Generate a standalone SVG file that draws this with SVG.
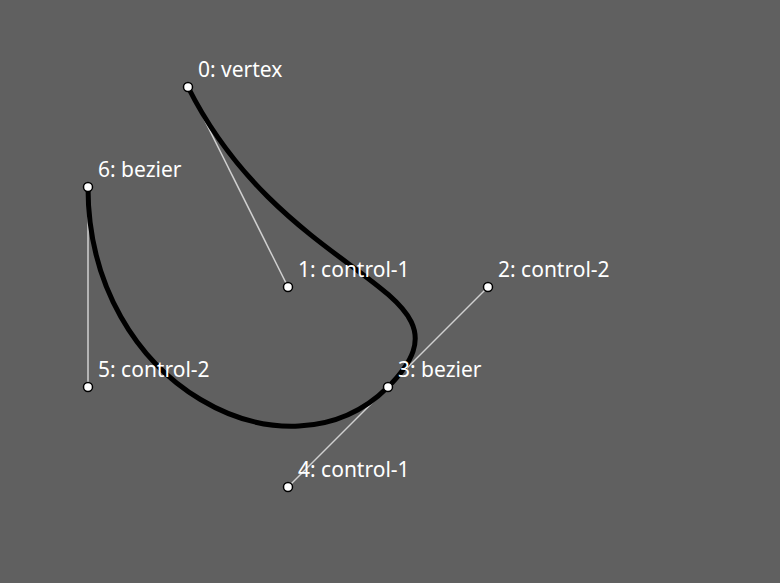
<svg xmlns="http://www.w3.org/2000/svg" width="780" height="583" viewBox="0 0 780 583">
<style>
.ctl{stroke:#d0d0d0;stroke-width:1.5;fill:none}
.curve{stroke:#000;stroke-width:5;fill:none}
.pt{fill:#fff;stroke:#000;stroke-width:1.5}
.lbl{fill:#fff;font-family:"Noto Sans","Open Sans",sans-serif;font-size:21px}
</style>
<rect width="780" height="583" fill="#606060"/>
<g id="connectors">
<line class="ctl" x1="188" y1="87" x2="288" y2="287"/>
<line class="ctl" x1="488" y1="287" x2="288" y2="487"/>
<line class="ctl" x1="88" y1="187" x2="88" y2="387"/>
<path class="curve" d="M188,87 C288,287 488,287 388,387 C288,487 88,387 88,187"/>
</g>
<g id="p0"><circle class="pt" cx="188" cy="87" r="4.5"/><text class="lbl" x="198" y="77">0: vertex</text></g>
<g id="p1"><circle class="pt" cx="288" cy="287" r="4.5"/><text class="lbl" x="298" y="277">1: control-1</text></g>
<g id="p2"><circle class="pt" cx="488" cy="287" r="4.5"/><text class="lbl" x="498" y="277">2: control-2</text></g>
<g id="p3"><circle class="pt" cx="388" cy="387" r="4.5"/><text class="lbl" x="398" y="377">3: bezier</text></g>
<g id="p4"><circle class="pt" cx="288" cy="487" r="4.5"/><text class="lbl" x="298" y="477">4: control-1</text></g>
<g id="p5"><circle class="pt" cx="88" cy="387" r="4.5"/><text class="lbl" x="98" y="377">5: control-2</text></g>
<g id="p6"><circle class="pt" cx="88" cy="187" r="4.5"/><text class="lbl" x="98" y="177">6: bezier</text></g>
</svg>
